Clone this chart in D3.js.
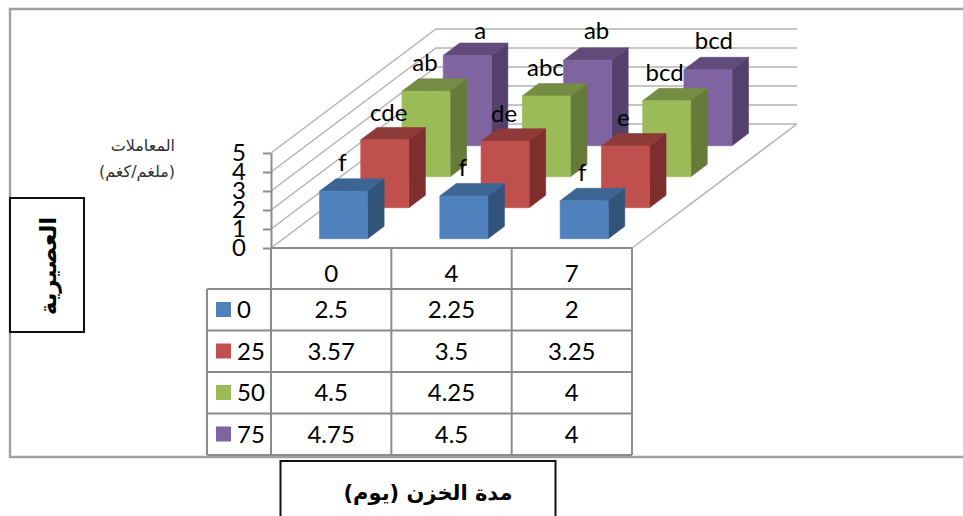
<!DOCTYPE html>
<html>
<head>
<meta charset="utf-8">
<script src="https://cdn.jsdelivr.net/npm/d3@7"></script>
<style>
body { margin: 0; background: #fff; }
text { font-family: Lato, sans-serif; fill: #000; }
.ar { font-family: "DejaVu Sans", sans-serif; }
</style>
</head>
<body>
<svg id="chart" width="963" height="516"></svg>
<script>
const categories = ["0", "4", "7"];
const seriesNames = ["0", "25", "50", "75"];
const values0 = [2.5, 2.25, 2];
const values25 = [3.57, 3.5, 3.25];
const values50 = [4.5, 4.25, 4];
const values75 = [4.75, 4.5, 4];
const letters0 = ["f", "f", "f"];
const letters25 = ["cde", "de", "e"];
const letters50 = ["ab", "abc", "bcd"];
const letters75 = ["a", "ab", "bcd"];
const yTicks = [0, 1, 2, 3, 4, 5];

const allValues = [values0, values25, values50, values75];
const allLetters = [letters0, letters25, letters50, letters75];

// front, top and side shade per series
const frontColors = ["#4f81bd", "#c0504d", "#9bbb59", "#8064a2"];
const topColors = ["#3d6594", "#8e3a38", "#748c43", "#604b7b"];
const sideColors = ["#32537a", "#7e2f2d", "#667b3a", "#54416b"];

// hand placement of the letters, [dx, dy] from the top of each bar's front face
const letterShift = [
    [[-1, -20], [-1, -20], [-2, -20]],
    [[4, -19], [-1, -19], [-2, -20]],
    [[-1, -20], [-1, -20], [-2, -20]],
    [[13, -16], [9, -21], [6, -21]]
];

const svg = d3.select("#chart");
const gridColor = "#b4b4b4";
const tableColor = "#8c8c8c";
const textSize = "24px";

// how far the floor recedes, in pixels
const depthX = 165;
const depthY = 124;

const x = d3.scaleBand().domain(d3.range(categories.length)).range([271, 632]).paddingInner(0.6).paddingOuter(0.3);
const z = d3.scaleBand().domain(d3.range(seriesNames.length)).range([0, 1]).paddingInner(0.6).paddingOuter(0.3);
const y = d3.scaleLinear().domain([0, 5]).range([248, 153]);

function project(px, depth, value) {
    return [px + depth * depthX, y(value) - depth * depthY];
}
const face = pts => d3.line()(pts) + "Z";

// chart frame, open on the right
svg.append("path")
    .attr("d", "M963,9H10V457H963")
    .attr("fill", "none")
    .attr("stroke", "#a0a0a0")
    .attr("stroke-width", 2.4);

// walls: left diagonals and back gridlines
const walls = svg.append("g").attr("fill", "none").attr("stroke", gridColor).attr("stroke-width", 1.5);
yTicks.forEach(t => {
    walls.append("path").attr("d", d3.line()([
        project(x.range()[0], 0, t), project(x.range()[0], 1, t), project(x.range()[1], 1, t)
    ]));
});
walls.append("path").attr("d", d3.line()([project(x.range()[1], 0, 0), project(x.range()[1], 1, 0)]));

// value axis
const axis = svg.append("g")
    .attr("transform", "translate(271,0)")
    .call(d3.axisLeft(y).tickValues(yTicks).tickFormat(d3.format("d")).tickSize(8).tickPadding(17).tickSizeOuter(0));
axis.select(".domain").attr("stroke", tableColor).attr("stroke-width", 2);
axis.selectAll("line").attr("stroke", tableColor).attr("stroke-width", 2);
axis.selectAll("text").style("font-family", "Lato, sans-serif").style("font-size", textSize).attr("fill", "#000");

// bars, back row first so nearer ones paint over them
const bars = svg.append("g");
d3.range(seriesNames.length).reverse().forEach(s => {
    categories.forEach((c, i) => {
        const v = allValues[s][i];
        const x0 = x(i), x1 = x(i) + x.bandwidth();
        const d0 = z(s), d1 = z(s) + z.bandwidth();
        const g = bars.append("g").attr("stroke-width", 0.6);
        g.append("path").attr("d", face([project(x1, d0, 0), project(x1, d1, 0), project(x1, d1, v), project(x1, d0, v)]))
            .attr("fill", sideColors[s]).attr("stroke", sideColors[s]);
        g.append("path").attr("d", face([project(x0, d0, v), project(x1, d0, v), project(x1, d1, v), project(x0, d1, v)]))
            .attr("fill", topColors[s]).attr("stroke", topColors[s]);
        g.append("path").attr("d", face([project(x0, d0, 0), project(x1, d0, 0), project(x1, d0, v), project(x0, d0, v)]))
            .attr("fill", frontColors[s]).attr("stroke", frontColors[s]);
    });
});

// significance letters above each bar
const labels = svg.append("g").attr("text-anchor", "middle").style("font-size", textSize);
d3.range(seriesNames.length).forEach(s => {
    categories.forEach((c, i) => {
        const p = project(x(i) + x.bandwidth() / 2, z(s), allValues[s][i]);
        labels.append("text")
            .attr("x", p[0] + letterShift[s][i][0])
            .attr("y", p[1] + letterShift[s][i][1])
            .text(allLetters[s][i]);
    });
});

// data table under the floor
const rowY = d3.scalePoint().domain(d3.range(seriesNames.length + 1)).range([289, 455]);
const table = svg.append("g").attr("fill", "none").attr("stroke", tableColor).attr("stroke-width", 2);
const colEdges = d3.range(categories.length + 1).map(i => x.range()[0] + i * x.step());
table.append("path").attr("d", `M${colEdges[0]},248H${colEdges[3]}`);
colEdges.forEach(e => table.append("path").attr("d", `M${e},248V455`));
table.append("path").attr("d", "M207,289V455");
rowY.domain().forEach(r => table.append("path").attr("d", `M207,${rowY(r)}H${colEdges[3]}`));

const cells = svg.append("g").style("font-size", textSize).attr("text-anchor", "middle");
categories.forEach((c, i) => {
    cells.append("text").attr("x", colEdges[i] + x.step() / 2).attr("y", 282).text(c);
});
seriesNames.forEach((name, s) => {
    const base = rowY(s) + 29;
    svg.append("rect").attr("x", 216).attr("y", rowY(s) + 13).attr("width", 15).attr("height", 15).attr("fill", frontColors[s]);
    svg.append("text").attr("x", 237).attr("y", base).style("font-size", textSize).text(name);
    categories.forEach((c, i) => {
        cells.append("text").attr("x", colEdges[i] + x.step() / 2).attr("y", base).text(allValues[s][i]);
    });
});

// legend heading; with rtl text the start anchor sits on the right
svg.append("text").attr("class", "ar").attr("x", 175).attr("y", 151)
    .attr("text-anchor", "start").attr("direction", "rtl").style("font-size", "16px").style("fill", "#333").text("المعاملات");
svg.append("text").attr("class", "ar").attr("x", 175).attr("y", 177)
    .attr("text-anchor", "start").attr("direction", "rtl").style("font-size", "16px").style("fill", "#333").text("(ملغم/كغم)");

// axis title boxes
svg.append("rect").attr("x", 10).attr("y", 198).attr("width", 74).attr("height", 134)
    .attr("fill", "#fff").attr("stroke", "#111").attr("stroke-width", 2);
svg.append("text").attr("class", "ar").attr("transform", "translate(56,266) rotate(-90)")
    .attr("text-anchor", "middle").attr("direction", "rtl").style("font-size", "23px").style("font-weight", "bold").text("العصيرية");

svg.append("rect").attr("x", 280.5).attr("y", 461).attr("width", 275).attr("height", 70)
    .attr("fill", "#fff").attr("stroke", "#111").attr("stroke-width", 2);
svg.append("text").attr("class", "ar").attr("x", 428).attr("y", 500)
    .attr("text-anchor", "middle").attr("direction", "rtl").style("font-size", "21px").style("font-weight", "bold").text("مدة الخزن (يوم)");
</script>
</body>
</html>
